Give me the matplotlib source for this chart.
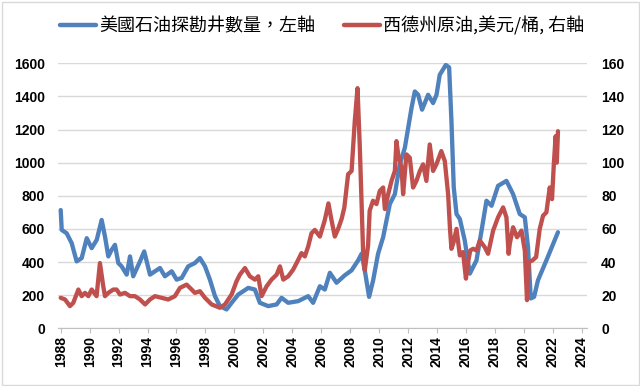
import matplotlib
matplotlib.use("Agg")
import matplotlib.pyplot as plt
from matplotlib.patches import Rectangle

# ---- data ----
rig_years = [1988.0, 1988.07, 1988.41, 1988.76, 1989.10, 1989.45, 1989.80, 1990.14, 1990.49, 1990.83,
             1991.06, 1991.29, 1991.52, 1991.75, 1991.98, 1992.21, 1992.56, 1992.79, 1993.01, 1993.48,
             1993.77, 1994.17, 1994.51, 1994.86, 1995.20, 1995.67, 1996.01, 1996.36, 1996.81, 1997.27,
             1997.62, 1997.97, 1998.31, 1998.66, 1999.00, 1999.46, 1999.81, 2000.27, 2000.96, 2001.42,
             2001.76, 2002.34, 2002.92, 2003.26, 2003.72, 2004.41, 2005.10, 2005.44, 2005.91, 2006.25,
             2006.60, 2007.06, 2007.63, 2008.10, 2008.55, 2008.79, 2009.01, 2009.31, 2009.59, 2009.93,
             2010.28, 2010.74, 2011.09, 2011.43, 2011.78, 2012.24, 2012.47, 2012.70, 2012.97, 2013.39,
             2013.73, 2013.97, 2014.19, 2014.61, 2014.84, 2015.00, 2015.16, 2015.35, 2015.58, 2015.92,
             2016.27, 2016.73, 2017.08, 2017.42, 2017.77, 2018.22, 2018.80, 2019.26, 2019.72, 2020.07,
             2020.29, 2020.48, 2020.71, 2020.98, 2021.56, 2022.36]
rig_count = [714, 594, 574, 514, 404, 424, 544, 484, 534, 654,
             554, 434, 474, 504, 394, 374, 324, 434, 314, 404,
             464, 324, 344, 364, 314, 344, 294, 304, 374, 394,
             424, 374, 294, 194, 134, 114, 154, 204, 244, 234,
             154, 134, 144, 184, 154, 164, 194, 154, 254, 234,
             335, 275, 320, 350, 410, 450, 350, 190, 290, 450,
             550, 750, 810, 990, 1090, 1330, 1430, 1410, 1320, 1410,
             1360, 1410, 1530, 1590, 1575, 1250, 850, 690, 660, 530,
             330, 410, 590, 770, 740, 860, 890, 810, 690, 670,
             490, 180, 190, 290, 410, 580]

wti_years = [1988.0, 1988.3, 1988.64, 1988.87, 1989.22, 1989.45, 1989.68, 1989.91, 1990.14, 1990.48,
             1990.71, 1990.94, 1991.06, 1991.29, 1991.63, 1991.86, 1992.1, 1992.44, 1992.79, 1993.13,
             1993.48, 1993.83, 1994.17, 1994.51, 1994.97, 1995.43, 1995.89, 1996.24, 1996.7, 1997.05,
             1997.27, 1997.62, 1997.97, 1998.43, 1999.0, 1999.35, 1999.81, 2000.15, 2000.38, 2000.73,
             2001.07, 2001.42, 2001.65, 2001.88, 2002.23, 2002.57, 2002.92, 2003.15, 2003.38, 2003.72,
             2004.06, 2004.3, 2004.64, 2004.87, 2005.1, 2005.33, 2005.56, 2005.91, 2006.25, 2006.5,
             2006.71, 2006.94, 2007.17, 2007.41, 2007.6, 2007.86, 2008.1, 2008.32, 2008.51, 2008.67,
             2008.79, 2008.9, 2009.01, 2009.24, 2009.35, 2009.58, 2009.82, 2010.05, 2010.28, 2010.4,
             2010.63, 2010.86, 2011.09, 2011.2, 2011.32, 2011.55, 2011.66, 2011.89, 2012.12, 2012.35,
             2012.58, 2012.82, 2013.04, 2013.27, 2013.5, 2013.73, 2013.96, 2014.3, 2014.54, 2014.77,
             2014.9, 2015.0, 2015.15, 2015.35, 2015.58, 2015.8, 2016.0,
             2016.15, 2016.3, 2016.5, 2016.73, 2016.96, 2017.3, 2017.53, 2017.88, 2018.22, 2018.57,
             2018.8, 2018.95, 2019.03, 2019.26, 2019.53, 2019.84, 2020.07, 2020.22, 2020.35, 2020.6,
             2020.85, 2021.1, 2021.33, 2021.56, 2021.79, 2021.95, 2022.08, 2022.2, 2022.28, 2022.36]
wti_price = [18.4, 17.4, 13.4, 15.4, 23.4, 19.4, 21.4, 19.4, 23.4, 19.4,
             39.4, 25.4, 19.4, 21.4, 23.4, 23.4, 20.4, 21.4, 19.4, 19.4,
             17.4, 14.4, 17.4, 19.4, 18.4, 17.4, 19.4, 24.4, 26.4, 23.4,
             21.4, 22.4, 18.4, 14.4, 12.4, 14.4, 20.4, 28.4, 32.4, 36.4,
             31.4, 29.4, 31.4, 19.4, 25.4, 29.4, 32.4, 37.4, 29.4, 31.4,
             35.4, 39.4, 45.4, 43.4, 49.4, 57.4, 59.4, 55.4, 65.4, 75.4,
             65.4, 55.4, 60, 66, 73, 93, 95, 125, 145, 109,
             75, 45, 35, 50, 71, 77, 75, 83, 85, 72,
             81, 89, 95, 113, 105, 97, 81, 105, 103, 85,
             89, 95, 99, 89, 111, 95, 99, 107, 101, 81,
             60, 48, 52, 60, 44, 46, 30,
             40, 47, 48, 47, 53, 49, 45, 59, 67, 73,
             67, 45, 51, 61, 55, 59, 47, 17, 40, 41,
             43, 60, 68, 70, 85, 78, 100, 116, 100, 119]

left_ticks = [0, 200, 400, 600, 800, 1000, 1200, 1400, 1600]
right_ticks = [0, 20, 40, 60, 80, 100, 120, 140, 160]
year_ticks = list(range(1988, 2025, 2))

label_rig = "美國石油探勘井數量，左軸"
label_wti = "西德州原油,美元/桶, 右軸"

BLUE = "#4F81BD"
RED = "#C0504D"
GRID = "#D9D9D9"

W, H = 640, 386
fig = plt.figure(figsize=(W / 100, H / 100), dpi=100)

L, R, T, B = 58.3, 586.7, 63.3, 328.3
ax = fig.add_axes([L / W, 1 - B / H, (R - L) / W, (B - T) / H])
ax2 = ax.twinx()

l1, = ax.plot(rig_years, rig_count, color=BLUE, lw=3.1, solid_joinstyle="round",
              solid_capstyle="round", label=label_rig)
l2, = ax2.plot(wti_years, wti_price, color=RED, lw=3.1, solid_joinstyle="round",
               solid_capstyle="round", label=label_wti)

ax.set_xlim(1987.834, 2024.346)
ax.set_ylim(0, 1600)
ax2.set_ylim(0, 160)

ax.set_yticks(left_ticks)
ax2.set_yticks(right_ticks)
ax.set_xticks(year_ticks)
ax.set_xticklabels([str(y) for y in year_ticks], rotation=90)

ax.grid(axis="y", color=GRID, lw=1)
ax.set_axisbelow(True)

for a in (ax, ax2):
    for s in ("top", "left", "right", "bottom"):
        a.spines[s].set_visible(False)
ax.spines["bottom"].set_visible(True)
ax.spines["bottom"].set_color("#BFBFBF")

ax.tick_params(axis="y", length=0, pad=9.6)
ax2.tick_params(axis="y", length=0, pad=10.3)
ax.tick_params(axis="x", length=3.5, color="#BFBFBF", pad=2, direction="out")
for lab in ax.get_yticklabels() + ax.get_xticklabels() + ax2.get_yticklabels():
    lab.set_fontfamily("Liberation Sans")
    lab.set_fontweight("bold")
    lab.set_fontsize(10)

leg = fig.legend([l1, l2], [label_rig, label_wti], loc="center",
                 bbox_to_anchor=(322 / W, 1 - 26 / H), ncol=2, frameon=False,
                 handlelength=2.0, handletextpad=0.15, columnspacing=1.6,
                 prop={"family": ["Noto Sans CJK TC", "DejaVu Sans"], "size": 13})
for h in leg.get_lines():
    h.set_linewidth(3.2)

fig.patches.append(Rectangle((1.5 / W, 1.5 / H), (W - 3) / W, (H - 3) / H,
                             transform=fig.transFigure, fill=False,
                             edgecolor="#D9D9D9", lw=1))

fig.savefig("out.png", dpi=100)
